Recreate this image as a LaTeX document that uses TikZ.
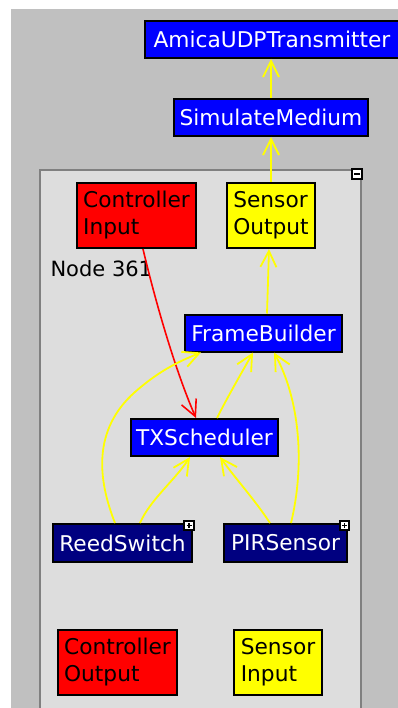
\documentclass[tikz,border=0pt]{standalone}
\usepackage{fontspec}
\setmainfont{DejaVu Sans}
\usetikzlibrary{arrows.meta}
\definecolor{bggray}{RGB}{192,192,192}
\definecolor{panelgray}{RGB}{221,221,221}
\definecolor{panelline}{RGB}{128,128,128}
\definecolor{actorblue}{RGB}{0,0,255}
\definecolor{actornavy}{RGB}{0,0,128}
\definecolor{portred}{RGB}{255,0,0}
\definecolor{portyellow}{RGB}{255,255,0}

\begin{document}
\begin{tikzpicture}[
  x=1pt,y=-1pt,
  >={Straight Barb[length=16pt,width=16pt]},
  every node/.style={font=\fontsize{21.7}{27}\selectfont},
  actor/.style={draw=black,line width=2pt,fill=actorblue,text=white,
    inner sep=0pt,minimum height=37pt},
  composite/.style={actor,fill=actornavy},
  port/.style={draw=black,line width=2pt,align=left,inner sep=0pt,
    minimum height=65pt,minimum width=119pt},
  ctrlport/.style={port,fill=portred},
  dataport/.style={port,fill=portyellow,minimum width=88pt},
  icon/.style={draw=black,line width=1.6pt,fill=white,inner sep=0pt,
    minimum size=9.5pt},
  link/.style={->,draw=portyellow,line width=1.8pt},
  ctrl/.style={->,draw=portred,line width=1.6pt}
]
\useasboundingbox (0,0) rectangle (398,708);
% Hintergrund
\fill[bggray] (11,9) rectangle (402,712);
\draw[draw=panelline,fill=panelgray,line width=2pt] (40,170) rectangle (361,720);
\node[icon] (fold) at (357,174) {};
\draw[line width=1.6pt] ([xshift=-3pt]fold.center) -- ([xshift=3pt]fold.center);

% obere Akteure
\node[actor,minimum width=254pt] (amica) at (272,39.5) {AmicaUDPTransmitter};
\node[actor,minimum width=194pt] (sim) at (271,117.5) {SimulateMedium};

% Ports oben
\node[ctrlport] (cin) at (136.5,215.5) {Controller\\Input};
\node[dataport] (sout) at (271,215.5) {Sensor\\Output};
\node[anchor=base west,font=\fontsize{21}{26}\selectfont] (title) at (47,276) {Node 361};

% innere Akteure
\node[actor,minimum width=157pt] (fb) at (263.5,333) {FrameBuilder};
\node[actor,minimum width=147pt] (txs) at (204.5,437.5) {TXScheduler};
\node[composite,minimum width=139pt,minimum height=38pt] (reed) at (122.5,543) {ReedSwitch};
\node[composite,minimum width=123pt,minimum height=38pt] (pir) at (285.5,543) {PIRSensor};
\foreach \n/\x in {reedicon/189,piricon/344.5}{
  \node[icon] (\n) at (\x,525.5) {};
  \draw[line width=1.4pt] ([xshift=-2.5pt]\n.center) -- ([xshift=2.5pt]\n.center);
  \draw[line width=1.4pt] ([yshift=-2.5pt]\n.center) -- ([yshift=2.5pt]\n.center);
}

% Ports unten
\node[ctrlport] (cout) at (117.5,662.5) {Controller\\Output};
\node[dataport] (sin) at (278,662.5) {Sensor\\Input};

% Verbindungen
\draw[link] (sim.north) -- (sim.north |- amica.south);
\draw[link] (sout.north) -- (sim.south);
\draw[link] ([xshift=3.5pt]fb.north) -- ([xshift=-2pt]sout.south);
\draw[ctrl] ([xshift=6.5pt]cin.south)
  .. controls (155,300) and (175,370) .. ([xshift=-8.5pt]txs.north);
\draw[link] ([xshift=-7.5pt]reed.north)
  .. controls (98,480) and (92,430) .. (135,392)
  .. controls (160,370) and (180,361) .. ([xshift=17pt]fb.south west);
\draw[link] ([xshift=17.5pt]reed.north)
  .. controls (150,500) and (175,480) .. ([xshift=-14.5pt]txs.south);
\draw[link] ([xshift=12.5pt]txs.north)
  .. controls (227,398) and (242,372) .. ([xshift=-10.5pt]fb.south);
\draw[link] ([xshift=-15.5pt]pir.north)
  .. controls (255,500) and (235,478) .. ([xshift=15.5pt]txs.south);
\draw[link] ([xshift=5.5pt]pir.north)
  .. controls (305,465) and (300,400) .. ([xshift=10.5pt]fb.south);
\end{tikzpicture}
\end{document}
